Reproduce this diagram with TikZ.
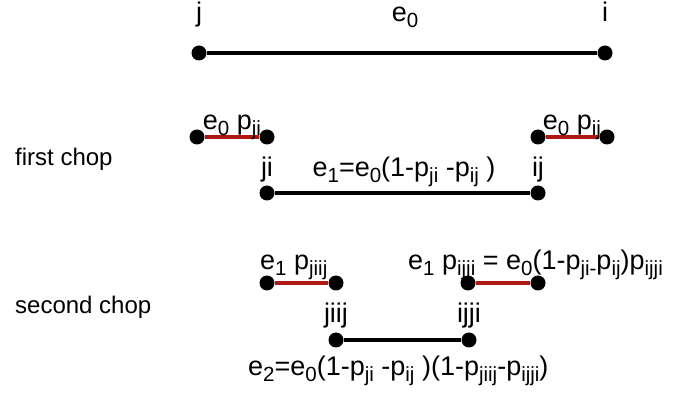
\documentclass[tikz,border=0pt]{standalone}
\usepackage{fontspec}
\setmainfont{Liberation Sans}
\usetikzlibrary{positioning}
\definecolor{chop}{RGB}{175,25,20}
\tikzset{
  dot/.style={circle,fill=black,inner sep=0pt,minimum size=15pt},
  seg/.style={line width=4.5pt},
  cut/.style={line width=4.5pt,chop},
  lbl/.style={inner sep=0pt,anchor=base,font=\fontsize{27}{30}\selectfont},
  side/.style={inner sep=0pt,anchor=base west,font=\fontsize{24}{27}\selectfont},
}
\newcommand{\idx}[1]{\raisebox{-6pt}{\fontsize{20.5}{20.5}\selectfont #1}}

\begin{document}
\begin{tikzpicture}[x=1pt,y=-1pt]
  \useasboundingbox (0,0) rectangle (673,398);
  % original edge
  \node[dot] (j) at (199,53) {};
  \node[dot] (i) at (605,53) {};
  \draw[seg] (j) -- (i);
  \node[lbl] (jlab) at (199,22) {j};
  \node[lbl] (e0lab) at (405,22) {e\idx{0}};
  \node[lbl] (ilab) at (605,22) {i};

  % first chop
  \node[side] (first) at (15,166) {first chop};
  \node[dot] (a1) at (197,137) {};
  \node[dot] (a2) at (267,137) {};
  \node[dot] (b1) at (538,137) {};
  \node[dot] (b2) at (607,137) {};
  \draw[cut] (a1) -- (a2);
  \draw[cut] (b1) -- (b2);
  \node[lbl] (alab) at (232,130) {e\idx{0} p\idx{ji}};
  \node[lbl] (blab) at (572,130) {e\idx{0} p\idx{ij}};
  \node[dot] (c1) at (267,193) {};
  \node[dot] (c2) at (538,193) {};
  \draw[seg] (c1) -- (c2);
  \node[lbl] (jilab) at (267,177) {ji};
  \node[lbl] (ijlab) at (538,177) {ij};
  \node[lbl] (e1lab) at (404,177) {e\idx{1}=e\idx{0}(1-p\idx{ji} -p\idx{ij} )};

  % second chop
  \node[side] (second) at (15,314) {second chop};
  \node[dot] (d1) at (267,283) {};
  \node[dot] (d2) at (336,283) {};
  \node[dot] (f1) at (468,283) {};
  \node[dot] (f2) at (538,283) {};
  \draw[cut] (d1) -- (d2);
  \draw[cut] (f1) -- (f2);
  \node[lbl,anchor=base west] (dlab) at (260,270) {e\idx{1} p\idx{jiij}};
  \node[lbl,anchor=base west] (flab) at (408,270)
    {e\idx{1} p\idx{ijji} = e\idx{0}(1-p\idx{ji-}p\idx{ij})p\idx{ijji}};
  \node[dot] (g1) at (336,340) {};
  \node[dot] (g2) at (469,340) {};
  \draw[seg] (g1) -- (g2);
  \node[lbl] (jiijlab) at (336,323) {jiij};
  \node[lbl] (ijjilab) at (469,323) {ijji};
  \node[lbl,anchor=base west] (e2lab) at (248,376)
    {e\idx{2}=e\idx{0}(1-p\idx{ji} -p\idx{ij} )(1-p\idx{jiij}-p\idx{ijji})};
\end{tikzpicture}
\end{document}
